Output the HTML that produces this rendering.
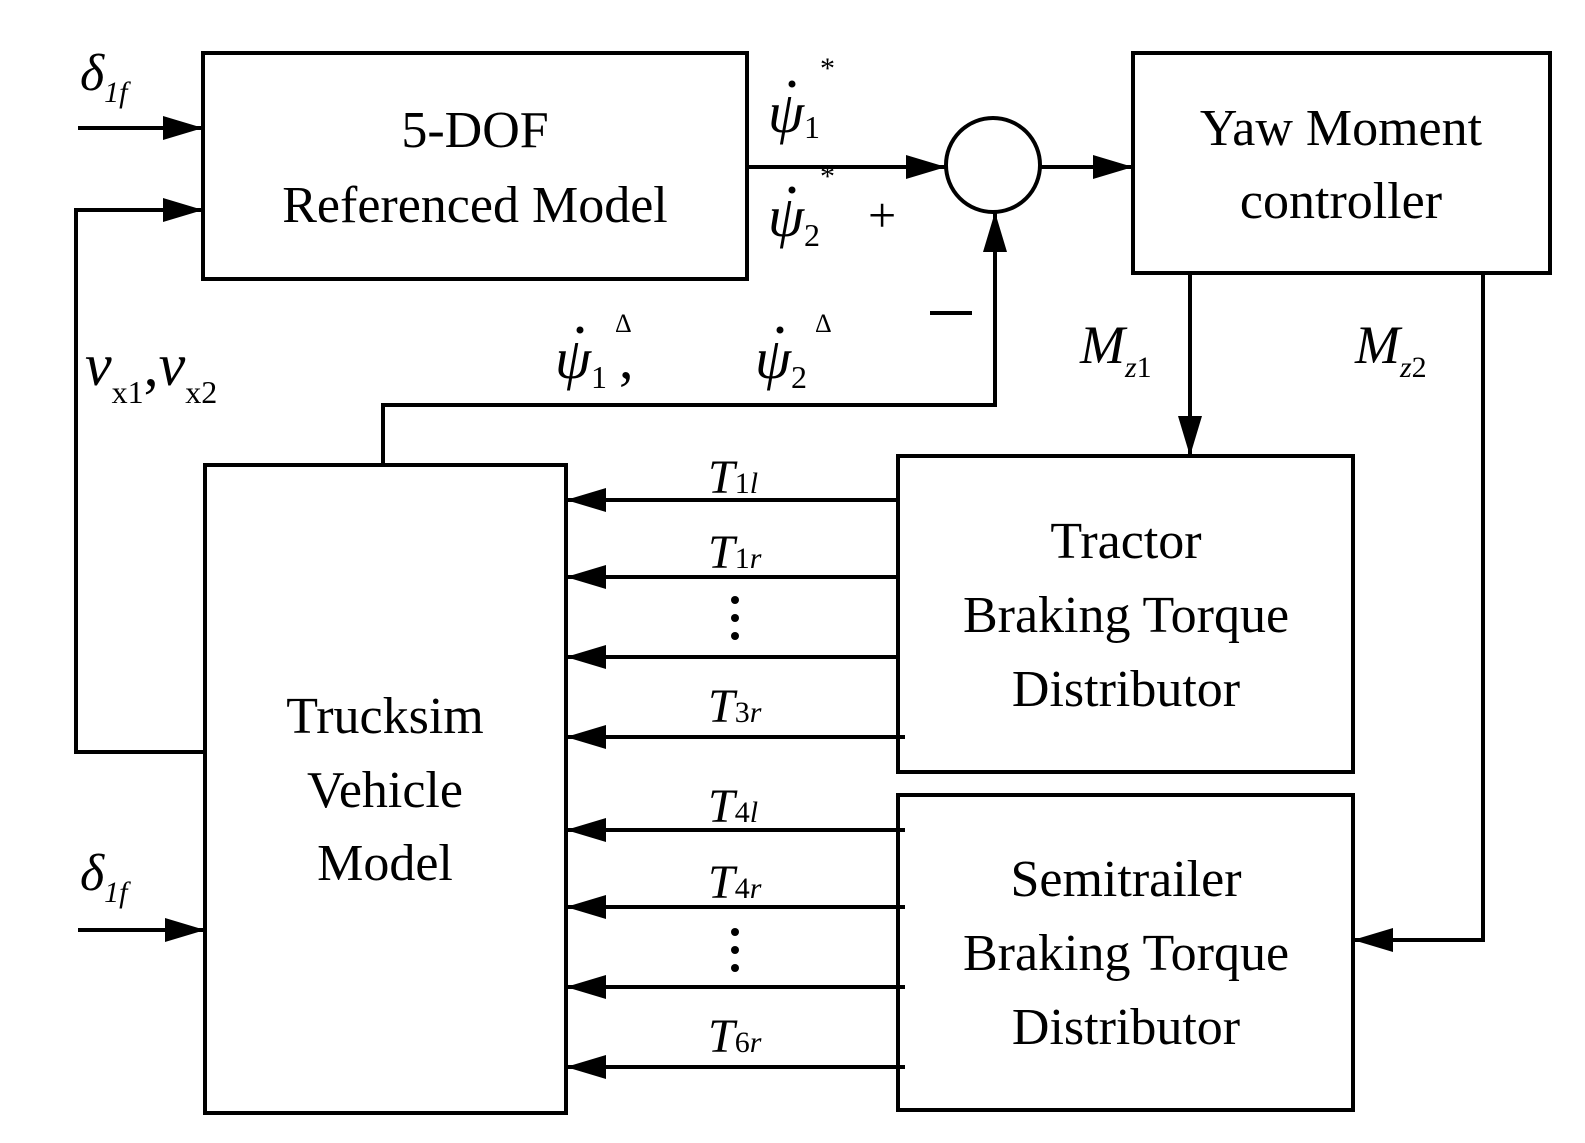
<!DOCTYPE html>
<html><head><style>
html,body{margin:0;padding:0;background:#fff;}
svg{display:block;}
text{font-family:"Liberation Serif",serif;fill:#000;}
.b{font-size:52px;text-anchor:middle;}
.i{font-style:italic;}
</style></head><body>
<svg width="1585" height="1143" viewBox="0 0 1585 1143" xmlns="http://www.w3.org/2000/svg">
<defs>
<marker id="A" viewBox="0 0 40 24" markerWidth="40" markerHeight="24" refX="40" refY="12" orient="auto" markerUnits="userSpaceOnUse">
<path d="M0,0 L40,12 L0,24 Z"/>
</marker>
</defs>
<g fill="none" stroke="#000" stroke-width="4">
<rect x="203" y="53" width="544" height="226"/>
<rect x="1133" y="53" width="417" height="220"/>
<rect x="205" y="465" width="361" height="648"/>
<rect x="898" y="456" width="455" height="316"/>
<rect x="898" y="795" width="455" height="315"/>
<circle cx="993" cy="165" r="47"/>
<line x1="78" y1="128" x2="203" y2="128" marker-end="url(#A)"/>
<polyline points="205,752 76,752 76,210 203,210" marker-end="url(#A)"/>
<line x1="78" y1="930" x2="205" y2="930" marker-end="url(#A)"/>
<line x1="747" y1="167" x2="946" y2="167" marker-end="url(#A)"/>
<line x1="1040" y1="167" x2="1133" y2="167" marker-end="url(#A)"/>
<polyline points="383,465 383,405 995,405 995,212" marker-end="url(#A)"/>
<line x1="1190" y1="273" x2="1190" y2="456" marker-end="url(#A)"/>
<polyline points="1483,273 1483,940 1353,940" marker-end="url(#A)"/>
<line x1="898" y1="500" x2="566" y2="500" marker-end="url(#A)"/>
<line x1="898" y1="577" x2="566" y2="577" marker-end="url(#A)"/>
<line x1="898" y1="657" x2="566" y2="657" marker-end="url(#A)"/>
<line x1="905" y1="737" x2="566" y2="737" marker-end="url(#A)"/>
<line x1="905" y1="830" x2="566" y2="830" marker-end="url(#A)"/>
<line x1="905" y1="907" x2="566" y2="907" marker-end="url(#A)"/>
<line x1="905" y1="987" x2="566" y2="987" marker-end="url(#A)"/>
<line x1="905" y1="1067" x2="566" y2="1067" marker-end="url(#A)"/>
</g>
<text class="b" x="475" y="147">5-DOF</text>
<text class="b" x="475" y="222">Referenced Model</text>
<text class="b" x="1341" y="145">Yaw Moment</text>
<text class="b" x="1341" y="218">controller</text>
<text class="b" x="385" y="733">Trucksim</text>
<text class="b" x="385" y="807">Vehicle</text>
<text class="b" x="385" y="880">Model</text>
<text class="b" x="1126" y="558">Tractor</text>
<text class="b" x="1126" y="632">Braking Torque</text>
<text class="b" x="1126" y="706">Distributor</text>
<text class="b" x="1126" y="896">Semitrailer</text>
<text class="b" x="1126" y="970">Braking Torque</text>
<text class="b" x="1126" y="1044">Distributor</text>
<g class="i">
<text x="80" y="90" font-size="52">δ<tspan font-size="30" dy="12">1f</tspan></text>
<text x="80" y="890" font-size="52">δ<tspan font-size="30" dy="12">1f</tspan></text>
<text x="768" y="132" font-size="58">ψ<tspan font-size="32" dy="6" font-style="normal">1</tspan></text>
<text x="820" y="78" font-size="30" font-style="normal">*</text>
<text x="768" y="236" font-size="58">ψ<tspan font-size="32" dy="10" font-style="normal">2</tspan></text>
<text x="820" y="186" font-size="30" font-style="normal">*</text>
<text x="555" y="378" font-size="58">ψ<tspan font-size="32" dy="10" font-style="normal">1</tspan><tspan dx="12" dy="-10" font-style="normal">,</tspan></text>
<text x="615" y="332" font-size="26" font-style="normal">Δ</text>
<text x="755" y="378" font-size="58">ψ<tspan font-size="32" dy="10" font-style="normal">2</tspan></text>
<text x="815" y="332" font-size="26" font-style="normal">Δ</text>
<text x="85" y="385" font-size="60">v<tspan font-size="32" dy="18" font-style="normal">x1</tspan><tspan dy="-18" font-style="normal">,</tspan>v<tspan font-size="32" dy="18" font-style="normal">x2</tspan></text>
<text x="1080" y="363" font-size="54">M<tspan font-size="30" dy="14">z</tspan><tspan font-size="30" font-style="normal">1</tspan></text>
<text x="1355" y="363" font-size="54">M<tspan font-size="30" dy="14">z</tspan><tspan font-size="30" font-style="normal">2</tspan></text>
<text x="708" y="493" font-size="48">T<tspan font-size="30" font-style="normal">1</tspan><tspan font-size="30">l</tspan></text>
<text x="708" y="568" font-size="48">T<tspan font-size="30" font-style="normal">1</tspan><tspan font-size="30">r</tspan></text>
<text x="708" y="722" font-size="48">T<tspan font-size="30" font-style="normal">3</tspan><tspan font-size="30">r</tspan></text>
<text x="708" y="822" font-size="48">T<tspan font-size="30" font-style="normal">4</tspan><tspan font-size="30">l</tspan></text>
<text x="708" y="898" font-size="48">T<tspan font-size="30" font-style="normal">4</tspan><tspan font-size="30">r</tspan></text>
<text x="708" y="1052" font-size="48">T<tspan font-size="30" font-style="normal">6</tspan><tspan font-size="30">r</tspan></text>
</g>
<g fill="#000">
<circle cx="792" cy="84" r="3.5"/><circle cx="792" cy="190" r="3.5"/>
<circle cx="580" cy="330" r="3.5"/><circle cx="780" cy="330" r="3.5"/>
</g>
<text x="868" y="232" font-size="50">+</text>
<line x1="930" y1="313" x2="972" y2="313" stroke="#000" stroke-width="4"/>
<g fill="#000">
<circle cx="735" cy="600" r="4"/><circle cx="735" cy="618" r="4"/><circle cx="735" cy="636" r="4"/>
<circle cx="735" cy="932" r="4"/><circle cx="735" cy="950" r="4"/><circle cx="735" cy="968" r="4"/>
</g>
</svg>
</body></html>
